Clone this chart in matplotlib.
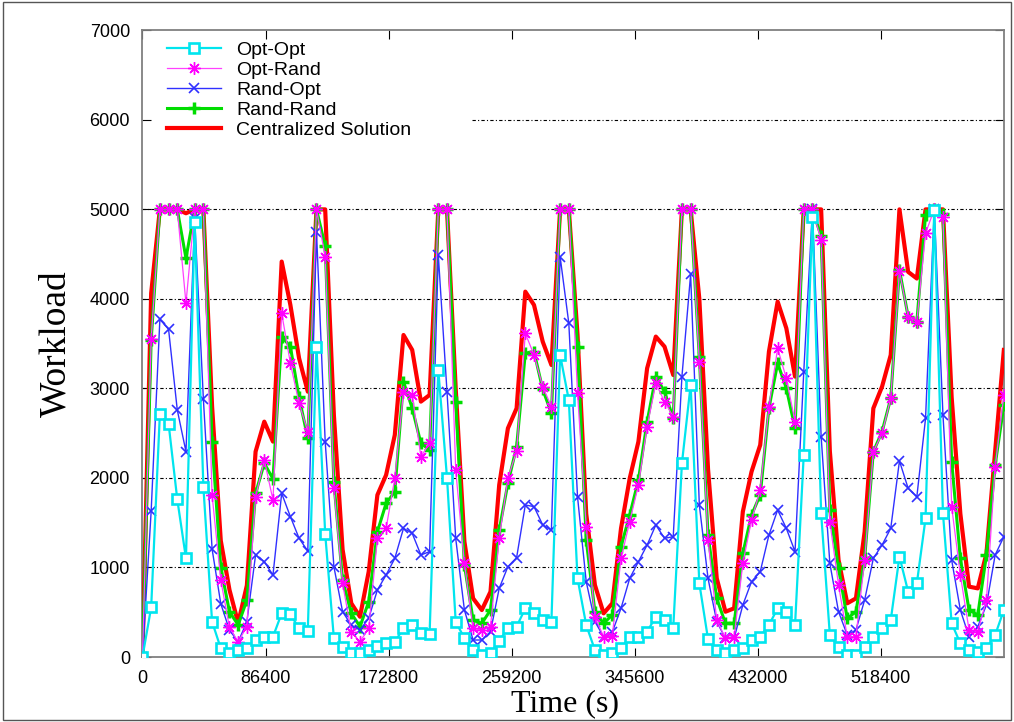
import numpy as np
import matplotlib
matplotlib.use("Agg")
import matplotlib.pyplot as plt
from matplotlib.patches import Rectangle

# one week of samples, 100 points
t = np.linspace(0, 604800, 100)

opt_opt = [0, 555, 2715, 2607, 1761, 1102, 4856, 1903, 395, 97,
           41, 78, 97, 190, 227, 227, 488, 477, 320, 290,
           3467, 1375, 209, 115, 41, 41, 78, 127, 153, 171,
           320, 357, 265, 260, 3206, 2003, 395, 210, 80, 25,
           45, 180, 320, 340, 544, 488, 413, 395, 3374, 2871,
           879, 357, 78, 22, 41, 97, 227, 227, 283, 450,
           413, 320, 2164, 3039, 823, 200, 78, 41, 78, 97,
           190, 227, 357, 544, 506, 357, 2257, 4920, 1605, 246,
           115, 22, 22, 115, 227, 320, 413, 1121, 730, 823,
           1549, 4994, 1605, 376, 153, 78, 60, 97, 246, 525]

opt_rand = [0, 3553, 5000, 5000, 5000, 3951, 5000, 5000, 1810, 860,
            330, 170, 340, 1791, 2201, 1754, 3840, 3281, 2834, 2517,
            5000, 4472, 1884, 823, 283, 171, 320, 1326, 1437, 1996,
            2964, 2927, 2238, 2387, 5000, 5000, 2089, 1046, 320, 302,
            339, 1326, 1996, 2300, 3616, 3374, 3020, 2797, 5000, 5000,
            2946, 1456, 450, 227, 240, 1102, 1512, 1922, 2573, 3057,
            2853, 2685, 5000, 5000, 3299, 1307, 413, 209, 227, 1046,
            1531, 1866, 2797, 3448, 3113, 2629, 5000, 5000, 4659, 1512,
            804, 227, 227, 1084, 2294, 2499, 2890, 4310, 3802, 3746,
            4733, 5000, 4920, 1680, 916, 302, 283, 637, 2126, 2927]

rand_opt = [0, 1631, 3772, 3661, 2760, 2294, 4900, 2882, 1207, 596,
            300, 170, 395, 1140, 1065, 916, 1828, 1568, 1326, 1184,
            4752, 2406, 1009, 506, 357, 302, 432, 749, 916, 1102,
            1437, 1382, 1140, 1177, 4491, 2964, 1326, 525, 190, 190,
            283, 767, 1009, 1110, 1698, 1680, 1475, 1419, 4472, 3728,
            1791, 842, 395, 227, 280, 544, 879, 1065, 1251, 1475,
            1326, 1344, 3132, 4275, 1698, 879, 395, 209, 209, 581,
            842, 953, 1363, 1642, 1437, 1177, 3180, 5000, 2462, 1046,
            506, 246, 302, 637, 1102, 1251, 1437, 2190, 1884, 1791,
            2666, 5000, 2704, 1084, 525, 227, 339, 581, 1140, 1344]

rand_rand = [0, 3540, 5000, 5000, 5000, 4454, 5000, 5000, 2406, 998,
             506, 357, 637, 1828, 2164, 1990, 3579, 3467, 2900, 2443,
             5000, 4590, 1950, 860, 488, 339, 618, 1400, 1717, 1847,
             3076, 2778, 2387, 2313, 5000, 5000, 2853, 1028, 413, 376,
             525, 1419, 1940, 2350, 3393, 3411, 2990, 2722, 5000, 5000,
             3467, 1307, 506, 376, 470, 1233, 1587, 1977, 2629, 3132,
             2964, 2666, 5000, 5000, 3350, 1363, 655, 376, 376, 1158,
             1587, 1810, 2780, 3281, 3002, 2555, 5000, 5000, 4700, 1642,
             991, 432, 506, 1102, 2294, 2517, 2890, 4324, 3802, 3746,
             4938, 5000, 4950, 2182, 1102, 525, 469, 1140, 2145, 2815]

centralized = [0, 4063, 5000, 5000, 5000, 4957, 5000, 5000, 2800, 1300,
               750, 380, 800, 2294, 2629, 2406, 4417, 3932, 3337, 2964,
               5000, 5000, 2700, 1200, 600, 450, 953, 1810, 2033, 2480,
               3597, 3430, 2853, 2927, 5000, 5000, 3000, 1289, 655, 525,
               730, 1922, 2555, 2778, 4081, 3932, 3523, 3262, 5000, 5000,
               3600, 1600, 804, 488, 600, 1437, 1996, 2406, 3225, 3579,
               3467, 3150, 5000, 5000, 4000, 2100, 879, 506, 544, 1624,
               2070, 2369, 3411, 3970, 3672, 3132, 5000, 5000, 5000, 2300,
               1084, 600, 655, 1400, 2778, 3020, 3374, 5000, 4302, 4228,
               5000, 5000, 5000, 2900, 1600, 786, 767, 1158, 2300, 3430]

xticks = [0, 86400, 172800, 259200, 345600, 432000, 518400]
yticks = list(range(0, 7001, 1000))

fig = plt.figure(figsize=(10.14, 7.22), dpi=100)
ax = fig.add_axes([0.1405, 0.090, 0.8495, 0.868])

sans = "Liberation Sans"
serif = "Liberation Serif"

# horizontal grid, the 6000 line stops where the key sits
grid_style = dict(color="black", lw=0.8, ls=(0, (3, 2, 1, 2)), zorder=1)
for y in yticks[1:-1]:
    xmin = 0.3825 if y == 6000 else 0.0
    ax.axhline(y, xmin=xmin, xmax=1.0, **grid_style)

ax.plot(t, centralized, color="#ff0000", lw=3.0, zorder=3,
        label="Centralized Solution")
ax.plot(t, rand_rand, color="#00dd00", lw=2.2, marker="+", ms=8, mew=2.5,
        zorder=4, label="Rand-Rand")
ax.plot(t, rand_opt, color="#3030ff", lw=1.0, marker="x", ms=7, mew=1.2,
        zorder=5, label="Rand-Opt")
ax.plot(t, opt_rand, color="#ff40ff", lw=0.9, marker=(8, 2, 0), ms=9,
        mew=1.0, mec="#ff00ff", zorder=6, label="Opt-Rand")
ax.plot(t, opt_opt, color="#00e5ee", lw=1.6, marker="s", ms=7.5, mew=1.9,
        mfc="white", mec="#00e5ee", zorder=7, label="Opt-Opt")

ax.set_xlim(0, 604800)
ax.set_ylim(0, 7000)
ax.set_xticks(xticks)
ax.set_xticklabels([str(v) for v in xticks], fontfamily=sans, fontsize=13)
ax.set_yticks(yticks)
ax.set_yticklabels([str(v) for v in yticks], fontfamily=sans, fontsize=13)
ax.tick_params(direction="in", length=6.5, width=0.8, color="black",
               top=True, right=True)
ax.tick_params(axis="y", pad=9)
ax.tick_params(axis="x", pad=9)

for s in ax.spines.values():
    s.set_color("#808080")
    s.set_linewidth(1.3)

ax.set_xlabel("Time (s)", fontfamily=serif, fontsize=23)
ax.xaxis.set_label_coords(0.490, -0.052, transform=ax.transAxes)
ax.xaxis.label.set_va("top")
ax.set_ylabel("Workload", fontfamily=serif, fontsize=27)
ax.yaxis.set_label_coords(-0.080, 0.50, transform=ax.transAxes)

handles, labels = ax.get_legend_handles_labels()
order = ["Opt-Opt", "Opt-Rand", "Rand-Opt", "Rand-Rand", "Centralized Solution"]
hmap = dict(zip(labels, handles))
ax.legend([hmap[k] for k in order], order, loc="upper left",
          bbox_to_anchor=(0.0284, 0.983), borderaxespad=0, borderpad=0,
          frameon=False, numpoints=1, handlelength=2.8, handletextpad=0.75,
          labelspacing=0.13, prop={"family": sans, "size": 14})

fig.patches.append(Rectangle((0.003, 0.003), 0.994, 0.994,
                             transform=fig.transFigure, fill=False,
                             ec="#555555", lw=1.0))

fig.savefig("out.png", dpi=100)
